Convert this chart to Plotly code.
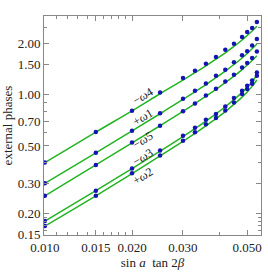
import math
import plotly.graph_objects as go

# ---- data ----
x_vals = [0.010, 0.015, 0.020, 0.025, 0.030, 0.033, 0.036, 0.039, 0.042, 0.045, 0.048, 0.050, 0.052, 0.054]

series_names = ["−ω4", "+ω1", "−ω5", "−ω3", "+ω2"]

pts_m_omega4 = [0.399, 0.603, 0.805, 1.031, 1.254, 1.384, 1.522, 1.667, 1.840, 1.995, 2.185, 2.338, 2.469, 2.677]
pts_p_omega1 = [0.3015, 0.456, 0.614, 0.778, 0.947, 1.056, 1.166, 1.294, 1.403, 1.553, 1.708, 1.803, 1.950, 2.129]
pts_m_omega5 = [0.2546, 0.3865, 0.5234, 0.657, 0.800, 0.889, 0.991, 1.085, 1.196, 1.311, 1.447, 1.536, 1.644, 1.798]
pts_m_omega3 = [0.1807, 0.2723, 0.368, 0.470, 0.574, 0.640, 0.713, 0.770, 0.853, 0.956, 1.056, 1.130, 1.214, 1.353]
pts_p_omega2 = [0.1689, 0.2546, 0.345, 0.4395, 0.536, 0.602, 0.671, 0.729, 0.809, 0.901, 1.010, 1.080, 1.161, 1.294]

fit_m_omega4 = [0.399, 0.603, 0.804, 1.014, 1.221, 1.349, 1.480, 1.619, 1.766, 1.925, 2.101, 2.233, 2.374, 2.529]
fit_p_omega1 = [0.3015, 0.4556, 0.6124, 0.7733, 0.9387, 1.0416, 1.1482, 1.2606, 1.3790, 1.5066, 1.6466, 1.7505, 1.8632, 1.9883]
fit_m_omega5 = [0.2546, 0.3864, 0.5207, 0.6574, 0.7993, 0.8884, 0.9807, 1.0768, 1.1778, 1.2866, 1.4063, 1.4951, 1.5916, 1.6982]
fit_m_omega3 = [0.1807, 0.2727, 0.3676, 0.4658, 0.5682, 0.6325, 0.7004, 0.7723, 0.8500, 0.9362, 1.0333, 1.1087, 1.1951, 1.3023]
fit_p_omega2 = [0.1689, 0.2545, 0.3439, 0.4367, 0.5325, 0.5929, 0.6566, 0.7238, 0.7967, 0.8775, 0.9685, 1.0392, 1.1202, 1.2209]

points = [pts_m_omega4, pts_p_omega1, pts_m_omega5, pts_m_omega3, pts_p_omega2]
fits = [fit_m_omega4, fit_p_omega1, fit_m_omega5, fit_m_omega3, fit_p_omega2]

x_tickvals = [0.010, 0.015, 0.020, 0.030, 0.050]
x_ticktext = ["0.010", "0.015", "0.020", "0.030", "0.050"]
x_minor = [0.011, 0.012, 0.013, 0.014, 0.016, 0.017, 0.018, 0.019, 0.04]
y_tickvals = [0.15, 0.20, 0.30, 0.50, 0.70, 1.00, 1.50, 2.00]
y_ticktext = ["0.15", "0.20", "0.30", "0.50", "0.70", "1.00", "1.50", "2.00"]
y_minor = [0.16, 0.17, 0.18, 0.19, 0.4, 0.6, 0.8, 0.9, 2.5]

# label placement (data units)
label_x = [0.0218] * 5
label_y = [0.986, 0.742, 0.544, 0.432, 0.334]
label_text = ["−<i>ω</i>4", "+<i>ω</i>1", "−<i>ω</i>5", "−<i>ω</i>3", "+<i>ω</i>2"]

LINE = "#22b422"
DOT = "#1414b4"
SERIF = "Liberation Serif, Times New Roman, serif"

fig = go.Figure()
for f in fits:
    fig.add_trace(go.Scatter(x=x_vals, y=f, mode="lines", line=dict(color=LINE, width=1.5, shape="spline"),
                             showlegend=False, hoverinfo="skip"))
for p in points:
    fig.add_trace(go.Scatter(x=x_vals, y=p, mode="markers", marker=dict(color=DOT, size=4.5),
                             showlegend=False))

for lx, ly, lt in zip(label_x, label_y, label_text):
    fig.add_annotation(x=math.log10(lx), y=math.log10(ly), text=lt, showarrow=False, textangle=-31,
                       font=dict(family=SERIF, size=12, color="#222222"), xref="x", yref="y")

axis_common = dict(
    type="log", showgrid=False, zeroline=False, showline=True, linecolor="#888888", linewidth=1,
    mirror="ticks", ticks="inside", ticklen=5, tickcolor="#888888", tickwidth=1, automargin=False,
    tickfont=dict(family=SERIF, size=13, color="#222222"),
)

fig.update_layout(
    width=268, height=272,
    margin=dict(l=44, r=7, t=16, b=37),
    paper_bgcolor="white", plot_bgcolor="white",
    xaxis=dict(**axis_common, range=[math.log10(0.00993), math.log10(0.0558)],
               tickmode="array", tickvals=x_tickvals, ticktext=x_ticktext,
               minor=dict(tickmode="array", tickvals=x_minor, ticks="inside", ticklen=3, tickcolor="#888888"),
               title=dict(text="sin <i>a</i>  tan 2<i>β</i>", font=dict(family=SERIF, size=13, color="#222222"),
                          standoff=0)),
    yaxis=dict(**axis_common, range=[math.log10(0.1497), math.log10(2.906)],
               tickmode="array", tickvals=y_tickvals, ticktext=y_ticktext,
               minor=dict(tickmode="array", tickvals=y_minor, ticks="inside", ticklen=3, tickcolor="#888888"),
               title=dict(text="external phases", font=dict(family=SERIF, size=13, color="#222222"),
                          standoff=2)),
)

fig.write_html("out.html", config={"displayModeBar": False},
               post_script="document.body.style.margin='0px';document.body.style.overflow='hidden';")
